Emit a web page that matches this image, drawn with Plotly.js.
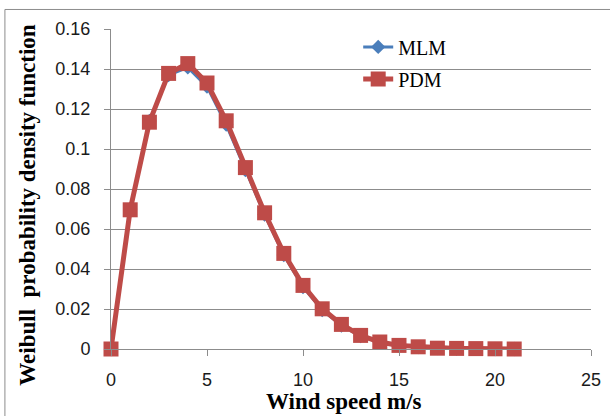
<!DOCTYPE html>
<html>
<head>
<meta charset="utf-8">
<script src="https://cdn.plot.ly/plotly-3.0.1.min.js"></script>
<style>
html,body{margin:0;padding:0;background:#fff;}
#chart{width:610px;height:416px;}
</style>
</head>
<body>
<div id="chart"></div>
<script>
// Wind speed (m/s)
const windSpeed = [0,1,2,3,4,5,6,7,8,9,10,11,12,13,14,15,16,17,18,19,20,21];
// Weibull pdf, Maximum Likelihood Method
const mlm = [0.0000,0.0700,0.1140,0.1370,0.1408,0.1312,0.1122,0.0895,0.0672,0.0470,0.0310,0.0195,0.0117,0.0065,0.0033,0.0017,0.0009,0.0004,0.0002,0.0001,0.0000,0.0000];
// Weibull pdf, Power Density Method
const pdm = [0.0000,0.0696,0.1134,0.1378,0.1427,0.1330,0.1141,0.0907,0.0681,0.0478,0.0318,0.0201,0.0123,0.0068,0.0035,0.0018,0.0011,0.0004,0.0003,0.0002,0.0001,0.0000];
const xTickVals = [0,5,10,15,20,25];
const yTickVals = [0,0.02,0.04,0.06,0.08,0.1,0.12,0.14,0.16];
const xTitle = 'Wind speed m/s';
const yTitle = 'Weibull  probability density function';

const traces = [
  {x: windSpeed, y: mlm, name: 'MLM', type: 'scatter', mode: 'lines+markers',
   line: {color: '#4a7ebb', width: 3}, cliponaxis: false,
   marker: {symbol: 'diamond', size: 11, color: '#4a7ebb'},
   legendgroup: 'a'},
  {x: windSpeed, y: pdm, name: 'PDM', type: 'scatter', mode: 'lines+markers',
   line: {color: '#be4b48', width: 5}, cliponaxis: false,
   marker: {symbol: 'square', size: 15, color: '#be4b48'},
   legendgroup: 'b'}
];

const grid = '#8c8c8c';
const titleFont = {family: 'Liberation Serif, Times New Roman, serif', size: 23, color: '#000', weight: 'bold'};
const layout = {
  width: 610, height: 416,
  margin: {l: 111, r: 19, t: 29, b: 67},
  paper_bgcolor: '#ffffff', plot_bgcolor: '#ffffff',
  font: {family: 'Liberation Sans, Arial, sans-serif', size: 18, color: '#1a1a1a'},
  showlegend: true,
  legend: {x: 0.515, y: 1.005, xanchor: 'left', yanchor: 'top',
           bgcolor: 'rgba(0,0,0,0)', traceorder: 'grouped', tracegroupgap: 3,
           font: {family: 'Liberation Serif, Times New Roman, serif', size: 20, color: '#000'}},
  xaxis: {range: [0, 25], tickvals: xTickVals, showgrid: false, zeroline: false,
          showline: true, linecolor: grid, linewidth: 1,
          ticks: 'outside', ticklen: 6, tickcolor: grid, ticklabelstandoff: 8,
          automargin: false, fixedrange: true},
  yaxis: {range: [0, 0.16], tickvals: yTickVals, showgrid: true, gridcolor: grid, gridwidth: 1,
          zeroline: false, showline: true, linecolor: grid, linewidth: 1,
          ticks: 'outside', ticklen: 6, tickcolor: grid, ticklabelstandoff: 10,
          automargin: false, fixedrange: true},
  annotations: [
    {text: xTitle, xref: 'paper', yref: 'paper', x: 0.485, y: -0.208, xanchor: 'center', yanchor: 'bottom',
     showarrow: false, font: titleFont},
    {text: yTitle, xref: 'paper', yref: 'paper', x: -0.173, y: 0.451, xanchor: 'center', yanchor: 'middle',
     textangle: -90, showarrow: false, font: titleFont}
  ],
  shapes: [
    {type: 'rect', xref: 'paper', yref: 'paper', x0: -0.221, x1: 1.2, y0: -0.4, y1: 1.061,
     line: {color: grid, width: 1}, fillcolor: 'rgba(0,0,0,0)', layer: 'below'}
  ]
};

Plotly.newPlot('chart', traces, layout, {displayModeBar: false, staticPlot: true});
</script>
</body>
</html>
